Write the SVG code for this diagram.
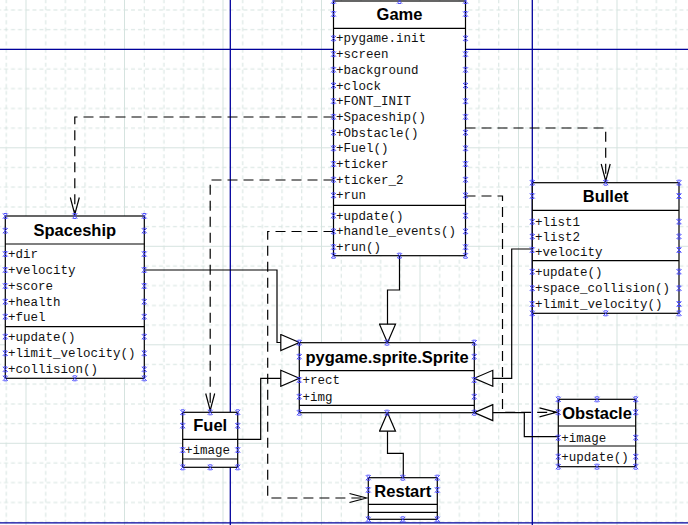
<svg xmlns="http://www.w3.org/2000/svg" xmlns:xlink="http://www.w3.org/1999/xlink" width="688" height="525" viewBox="0 0 688 525">
<style>
.bx rect{fill:#fff;stroke:#000;stroke-width:1.2}
.bx line{stroke:#000;stroke-width:1.2}
.t{font-family:"Liberation Sans",Arial,sans-serif;font-weight:bold;font-size:16.5px;text-anchor:middle;fill:#000}
.a{font-family:"Liberation Mono","Courier New",monospace;font-size:12.5px;fill:#111}
.c{fill:none;stroke:#000;stroke-width:1.2}
.d{stroke-dasharray:10 6}
.inh{marker-end:url(#tri)}
.dep{marker-end:url(#open)}
.blue{stroke:#00009c;stroke-width:1.3;fill:none}
</style>
<defs>
<pattern id="grid" patternUnits="userSpaceOnUse" x="25.5" y="48.8" width="98.5" height="98.5">
<path d="M0.5,0V98.5M0,0.5H98.5" stroke="#d5e3df" stroke-width="1" fill="none"/>
<path d="M20.2,0V98.5M39.9,0V98.5M59.6,0V98.5M79.3,0V98.5M0,20.2H98.5M0,39.9H98.5M0,59.6H98.5M0,79.3H98.5" stroke="#d5e3df" stroke-width="1" stroke-dasharray="4 3" fill="none"/>
</pattern>
<marker id="tri" markerUnits="userSpaceOnUse" viewBox="0 0 21 18" markerWidth="21" markerHeight="18" refX="19.5" refY="9" orient="auto">
<path d="M1,1L19.5,9L1,17Z" fill="#fff" stroke="#000" stroke-width="1.2"/>
</marker>
<marker id="open" markerUnits="userSpaceOnUse" viewBox="0 0 20 12" markerWidth="20" markerHeight="12" refX="18" refY="6" orient="auto">
<path d="M1,1.5L18,6L1,10.5" fill="none" stroke="#000" stroke-width="1.2" stroke-dasharray="none"/>
</marker>
<path id="mk" d="M-2.5,-2.5L2.5,2.5M2.5,-2.5L-2.5,2.5M-1.6,-2.5H1.6M-1.6,2.5H1.6" stroke="#3c3cff" stroke-width="0.9" fill="none"/>
</defs>

<rect x="0" y="0" width="688" height="525" fill="#fff"/>
<rect x="0" y="0" width="688" height="525" fill="url(#grid)"/>
<g id="page-lines">
<line class="blue" x1="0" y1="49.3" x2="688" y2="49.3"/>
<line class="blue" x1="230.3" y1="0" x2="230.3" y2="525"/>
<line class="blue" x1="532.3" y1="0" x2="532.3" y2="525"/>
<line class="blue" x1="0" y1="522.8" x2="688" y2="522.8"/>
</g>

<g id="connectors">
<path class="c inh" d="M399.5,255.7V290H387.5V342.7"/>
<path class="c inh" d="M144.3,270H277V342.5H299.3"/>
<path class="c inh" d="M237.7,439.3H260.7V378.3H299.3"/>
<path class="c inh" d="M532.3,249H511.7V378.3H474.3"/>
<path class="c inh" d="M558.3,436.7H524.3V412.6H474.3"/>
<path class="c inh" d="M403.3,477.7V453.3H387.5V412.7"/>
<path class="c d dep" d="M333.5,117H74.8V214.5"/>
<path class="c d dep" d="M333.5,180H210.2V410.5"/>
<path class="c d dep" d="M465.5,128H605.7V181"/>
<path class="c d dep" d="M465.5,196H502.5V412.3H556.5"/>
<path class="c d dep" d="M333.5,231.5H267.7V498H366.5"/>
</g>

<g id="game" class="bx">
<rect x="333.5" y="1" width="132" height="254.7"/>
<line x1="333.5" y1="28.3" x2="465.5" y2="28.3"/>
<line x1="333.5" y1="205.3" x2="465.5" y2="205.3"/>
<text class="t" x="399.5" y="20.3">Game</text>
<text class="a" x="336" y="42.4">+pygame.init</text>
<text class="a" x="336" y="58.1">+screen</text>
<text class="a" x="336" y="73.8">+background</text>
<text class="a" x="336" y="89.5">+clock</text>
<text class="a" x="336" y="105.2">+FONT_INIT</text>
<text class="a" x="336" y="120.9">+Spaceship()</text>
<text class="a" x="336" y="136.6">+Obstacle()</text>
<text class="a" x="336" y="152.3">+Fuel()</text>
<text class="a" x="336" y="168">+ticker</text>
<text class="a" x="336" y="183.7">+ticker_2</text>
<text class="a" x="336" y="199.4">+run</text>
<text class="a" x="336" y="219.7">+update()</text>
<text class="a" x="336" y="235.4">+handle_events()</text>
<text class="a" x="336" y="251.1">+run()</text>
<use href="#mk" x="333.5" y="1"/><use href="#mk" x="399.5" y="1"/><use href="#mk" x="465.5" y="1"/>
<use href="#mk" x="333.5" y="255.7"/><use href="#mk" x="399.5" y="255.7"/><use href="#mk" x="465.5" y="255.7"/>
<use href="#mk" x="333.5" y="14"/><use href="#mk" x="465.5" y="14"/>
<use href="#mk" x="333.5" y="38.4"/><use href="#mk" x="465.5" y="38.4"/>
<use href="#mk" x="333.5" y="54.1"/><use href="#mk" x="465.5" y="54.1"/>
<use href="#mk" x="333.5" y="69.8"/><use href="#mk" x="465.5" y="69.8"/>
<use href="#mk" x="333.5" y="85.5"/><use href="#mk" x="465.5" y="85.5"/>
<use href="#mk" x="333.5" y="101.2"/><use href="#mk" x="465.5" y="101.2"/>
<use href="#mk" x="333.5" y="116.9"/><use href="#mk" x="465.5" y="116.9"/>
<use href="#mk" x="333.5" y="132.6"/><use href="#mk" x="465.5" y="132.6"/>
<use href="#mk" x="333.5" y="148.3"/><use href="#mk" x="465.5" y="148.3"/>
<use href="#mk" x="333.5" y="164"/><use href="#mk" x="465.5" y="164"/>
<use href="#mk" x="333.5" y="179.7"/><use href="#mk" x="465.5" y="179.7"/>
<use href="#mk" x="333.5" y="195.4"/><use href="#mk" x="465.5" y="195.4"/>
<use href="#mk" x="333.5" y="215.7"/><use href="#mk" x="465.5" y="215.7"/>
<use href="#mk" x="333.5" y="231.4"/><use href="#mk" x="465.5" y="231.4"/>
<use href="#mk" x="333.5" y="247.1"/><use href="#mk" x="465.5" y="247.1"/>
</g>

<g id="bullet" class="bx">
<rect x="532.3" y="182.7" width="146.7" height="130.6"/>
<line x1="532.3" y1="210.3" x2="679" y2="210.3"/>
<line x1="532.3" y1="260.7" x2="679" y2="260.7"/>
<text class="t" x="605.7" y="202">Bullet</text>
<text class="a" x="535" y="225.5">+list1</text>
<text class="a" x="535" y="240.5">+list2</text>
<text class="a" x="535" y="255.5">+velocity</text>
<text class="a" x="535" y="275.7">+update()</text>
<text class="a" x="535" y="292">+space_collision()</text>
<text class="a" x="535" y="308">+limit_velocity()</text>
<use href="#mk" x="532.3" y="182.7"/><use href="#mk" x="605.7" y="182.7"/><use href="#mk" x="679" y="182.7"/>
<use href="#mk" x="532.3" y="313.3"/><use href="#mk" x="605.7" y="313.3"/><use href="#mk" x="679" y="313.3"/>
<use href="#mk" x="532.3" y="196"/><use href="#mk" x="679" y="196"/>
<use href="#mk" x="532.3" y="221.7"/><use href="#mk" x="679" y="221.7"/>
<use href="#mk" x="532.3" y="236.5"/><use href="#mk" x="679" y="236.5"/>
<use href="#mk" x="532.3" y="250"/><use href="#mk" x="679" y="250"/>
<use href="#mk" x="532.3" y="271.7"/><use href="#mk" x="679" y="271.7"/>
<use href="#mk" x="532.3" y="288.3"/><use href="#mk" x="679" y="288.3"/>
<use href="#mk" x="532.3" y="304"/><use href="#mk" x="679" y="304"/>
</g>

<g id="spaceship" class="bx">
<rect x="5.3" y="216" width="139" height="162.3"/>
<line x1="5.3" y1="244" x2="144.3" y2="244"/>
<line x1="5.3" y1="326.7" x2="144.3" y2="326.7"/>
<text class="t" x="74.8" y="236">Spaceship</text>
<text class="a" x="8" y="258">+dir</text>
<text class="a" x="8" y="274">+velocity</text>
<text class="a" x="8" y="290">+score</text>
<text class="a" x="8" y="305.7">+health</text>
<text class="a" x="8" y="320.7">+fuel</text>
<text class="a" x="8" y="340.7">+update()</text>
<text class="a" x="8" y="357.3">+limit_velocity()</text>
<text class="a" x="8" y="373.3">+collision()</text>
<use href="#mk" x="5.3" y="216"/><use href="#mk" x="74.8" y="216"/><use href="#mk" x="144.3" y="216"/>
<use href="#mk" x="5.3" y="378.3"/><use href="#mk" x="74.8" y="378.3"/><use href="#mk" x="144.3" y="378.3"/>
<use href="#mk" x="5.3" y="230.7"/><use href="#mk" x="144.3" y="230.7"/>
<use href="#mk" x="5.3" y="254"/><use href="#mk" x="144.3" y="254"/>
<use href="#mk" x="5.3" y="270"/><use href="#mk" x="144.3" y="270"/>
<use href="#mk" x="5.3" y="286"/><use href="#mk" x="144.3" y="286"/>
<use href="#mk" x="5.3" y="301.7"/><use href="#mk" x="144.3" y="301.7"/>
<use href="#mk" x="5.3" y="316.7"/><use href="#mk" x="144.3" y="316.7"/>
<use href="#mk" x="5.3" y="336.7"/><use href="#mk" x="144.3" y="336.7"/>
<use href="#mk" x="5.3" y="353.3"/><use href="#mk" x="144.3" y="353.3"/>
<use href="#mk" x="5.3" y="369.3"/><use href="#mk" x="144.3" y="369.3"/>
</g>

<g id="sprite" class="bx">
<rect x="299.3" y="342.7" width="175" height="70"/>
<line x1="299.3" y1="370.7" x2="474.3" y2="370.7"/>
<line x1="299.3" y1="405.3" x2="474.3" y2="405.3"/>
<text class="t" x="387" y="363">pygame.sprite.Sprite</text>
<text class="a" x="302.5" y="384">+rect</text>
<text class="a" x="302.5" y="400.7">+img</text>
<use href="#mk" x="299.3" y="342.7"/><use href="#mk" x="387" y="342.7"/><use href="#mk" x="474.3" y="342.7"/>
<use href="#mk" x="299.3" y="412.7"/><use href="#mk" x="387" y="412.7"/><use href="#mk" x="474.3" y="412.7"/>
<use href="#mk" x="299.3" y="356.7"/><use href="#mk" x="474.3" y="356.7"/>
<use href="#mk" x="299.3" y="380"/><use href="#mk" x="474.3" y="380"/>
<use href="#mk" x="299.3" y="396.7"/><use href="#mk" x="474.3" y="396.7"/>
</g>

<g id="fuel" class="bx">
<rect x="182.7" y="412.3" width="55" height="55"/>
<line x1="182.7" y1="439.3" x2="237.7" y2="439.3"/>
<line x1="182.7" y1="459" x2="237.7" y2="459"/>
<text class="t" x="210.2" y="431">Fuel</text>
<text class="a" x="185" y="454">+image</text>
<use href="#mk" x="182.7" y="412.3"/><use href="#mk" x="210.2" y="412.3"/><use href="#mk" x="237.7" y="412.3"/>
<use href="#mk" x="182.7" y="467.3"/><use href="#mk" x="210.2" y="467.3"/><use href="#mk" x="237.7" y="467.3"/>
<use href="#mk" x="182.7" y="425.7"/><use href="#mk" x="237.7" y="425.7"/>
<use href="#mk" x="182.7" y="450"/><use href="#mk" x="237.7" y="450"/>
</g>

<g id="obstacle" class="bx">
<rect x="558.3" y="399.3" width="77.4" height="67.4"/>
<line x1="558.3" y1="426" x2="635.7" y2="426"/>
<line x1="558.3" y1="446" x2="635.7" y2="446"/>
<text class="t" x="597" y="418.5">Obstacle</text>
<text class="a" x="561.3" y="441.7">+image</text>
<text class="a" x="561.3" y="460.7">+update()</text>
<use href="#mk" x="558.3" y="399.3"/><use href="#mk" x="597" y="399.3"/><use href="#mk" x="635.7" y="399.3"/>
<use href="#mk" x="558.3" y="466.7"/><use href="#mk" x="597" y="466.7"/><use href="#mk" x="635.7" y="466.7"/>
<use href="#mk" x="558.3" y="412.3"/><use href="#mk" x="635.7" y="412.3"/>
<use href="#mk" x="558.3" y="437.7"/><use href="#mk" x="635.7" y="437.7"/>
<use href="#mk" x="558.3" y="456.7"/><use href="#mk" x="635.7" y="456.7"/>
</g>

<g id="restart" class="bx">
<rect x="368.3" y="477.7" width="69" height="41.6"/>
<line x1="368.3" y1="504.3" x2="437.3" y2="504.3"/>
<line x1="368.3" y1="512.3" x2="437.3" y2="512.3"/>
<text class="t" x="402.8" y="496.5">Restart</text>
<use href="#mk" x="368.3" y="477.7"/><use href="#mk" x="402.8" y="477.7"/><use href="#mk" x="437.3" y="477.7"/>
<use href="#mk" x="368.3" y="519.3"/><use href="#mk" x="402.8" y="519.3"/><use href="#mk" x="437.3" y="519.3"/>
<use href="#mk" x="368.3" y="490"/><use href="#mk" x="437.3" y="490"/>
</g>
</svg>
